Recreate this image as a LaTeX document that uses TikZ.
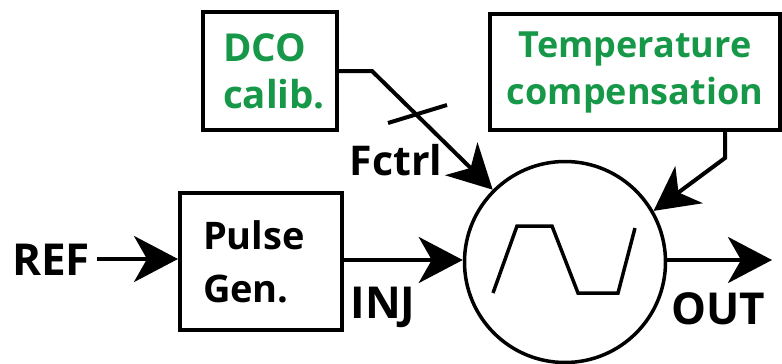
\documentclass[tikz,border=0pt]{standalone}
\usepackage{fontspec}
\setmainfont{Open Sans}
\usetikzlibrary{arrows.meta,calc}
\definecolor{calgreen}{RGB}{22,152,72}
\begin{document}
\begin{tikzpicture}[x=1pt,y=-1pt,
  blk/.style={draw=black,line width=4pt,inner sep=0pt,align=center,font=\bfseries\fontsize{36}{47}\selectfont},
  gtext/.style={text=calgreen},
  lbl/.style={inner sep=0pt,font=\bfseries\fontsize{40}{48}\selectfont},
  conn/.style={line width=4pt,-{Stealth[length=44pt,width=46pt,inset=13pt]}},
  wire/.style={line width=4pt}
]
\useasboundingbox (0,0) rectangle (782,364);
% blocks
\node[blk,gtext,minimum width=134pt,minimum height=118pt,text width=94pt,align=left,font=\bfseries\fontsize{38.5}{47}\selectfont] (dco) at (270,71) {DCO\\calib.};
\node[blk,gtext,minimum width=290pt,minimum height=116pt] (temp) at (635,72) {Temperature\\compensation};
\node[blk,minimum width=162pt,minimum height=137pt,text width=116pt,align=left,font=\bfseries\fontsize{38}{53}\selectfont] (pg) at (261,261.5) {Pulse\\Gen.};
\node[draw=black,line width=3.5pt,circle,minimum size=201pt,inner sep=0pt] (osc) at (565,262) {};
% waveform
\draw[line width=3.5pt] (493,293) -- (517,226) -- (552,226) -- (578,293) -- (618,293) -- (635,228);
% labels
\node[lbl,anchor=base,font=\bfseries\fontsize{44}{48}\selectfont] (ref) at (51,275) {REF};
\node[lbl,anchor=base,font=\bfseries\fontsize{44}{48}\selectfont] (inj) at (383,318) {INJ};
\node[lbl,anchor=base,font=\bfseries\fontsize{44}{48}\selectfont] (out) at (718,324) {OUT};
\node[lbl,anchor=base,font=\bfseries\fontsize{41}{48}\selectfont] (fctrl) at (396,175) {Fctrl};
% connectors
\coordinate (outend) at (772,260);
\coordinate (refst) at (97,259);
\draw[conn] (refst) -- (pg.west |- refst);
\draw[conn] (pg.east |- 0,260) -- (osc.west |- 0,260);
\draw[conn] (osc.east |- outend) -- (outend);
\coordinate (dbend) at (372,71);
\draw[conn] (dco.east |- dbend) -- (dbend) -- (osc.135);
\coordinate (t1) at (388,123);
\coordinate (t2) at (447,105);
\draw[wire] (t1) -- (t2);
\coordinate (tbend) at (725,158);
\draw[conn] (temp.south -| tbend) -- (tbend) -- (osc.30);
\end{tikzpicture}
\end{document}
